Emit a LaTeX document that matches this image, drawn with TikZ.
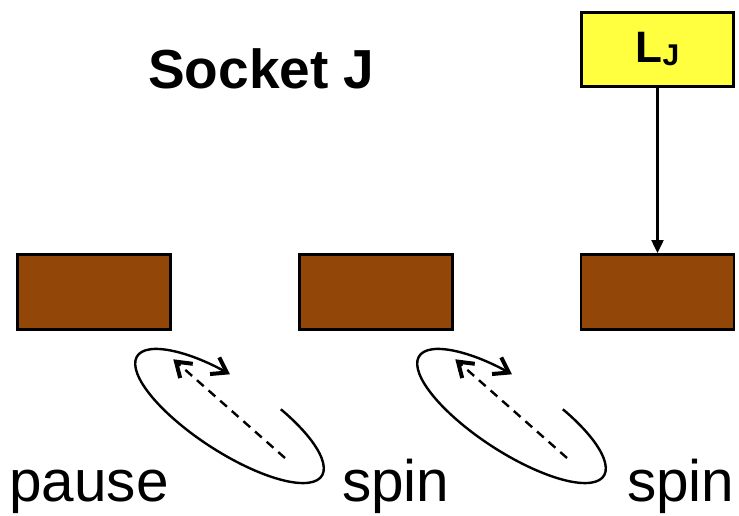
\documentclass[tikz,border=0pt]{standalone}
\usepackage{fontspec}
\setmainfont{Liberation Sans}
\usetikzlibrary{arrows.meta}

\definecolor{socketbrown}{RGB}{146,70,8}
\definecolor{lyellow}{RGB}{255,255,64}

\tikzset{
  socketbox/.style={draw=black, line width=2.8pt, fill=socketbrown,
    minimum width=153pt, minimum height=75pt, inner sep=0pt},
  labelbox/.style={draw=black, line width=2.8pt, fill=lyellow,
    minimum width=152pt, minimum height=74pt, inner sep=0pt},
  feed/.style={line width=2.1pt, -{Triangle[length=13pt,width=12pt]}},
  barb/.style={-{Straight Barb[length=14pt,width=19pt,line width=4pt]}},
  stateword/.style={anchor=base west, inner sep=0pt,
    font=\fontsize{58.5}{60}\selectfont},
  % spinning rotor: open tilted ellipse with a dashed axis
  rotor/.pic={
    \coordinate (-axtail) at (55.5,-42);
    \coordinate (-axhead) at (-56.2,56.7);
    \begin{scope}[rotate=-33]
      \draw[line width=2.4pt, barb] (69:110pt and 36pt)
        arc[start angle=69, end angle=-258.3, x radius=110pt, y radius=36pt];
    \end{scope}
    \draw[line width=2.4pt, dash pattern=on 9pt off 6.5pt, barb]
      (-axtail) -- (-axhead);
  }
}

\begin{document}
\begin{tikzpicture}[x=1pt, y=1pt]
  \useasboundingbox (0,0) rectangle (739,516);

  % title
  \node[anchor=base west, inner sep=0pt, font=\bfseries\fontsize{55}{58}\selectfont]
    (title) at (148,427) {Socket J};

  % sockets
  \node[socketbox] (b1) at (94,224) {};
  \node[socketbox] (b2) at (375.75,224) {};
  \node[socketbox] (b3) at (657.5,224) {};

  % load label and its feed line
  \node[labelbox, font=\bfseries\fontsize{44}{46}\selectfont] (lj) at (657.5,466.5)
    {L\raisebox{-3pt}{\fontsize{30}{30}\selectfont J}};
  \draw[feed] (lj.south) -- (b3.north);

  % rotors between the sockets
  \pic (r1) at (229.5,100) {rotor};
  \pic (r2) at (511.5,100) {rotor};

  % state words
  \node[stateword] (w1) at (9,14) {pause};
  \node[stateword] (w2) at (342,14) {spin};
  \node[stateword] (w3) at (627,14) {spin};
\end{tikzpicture}
\end{document}
